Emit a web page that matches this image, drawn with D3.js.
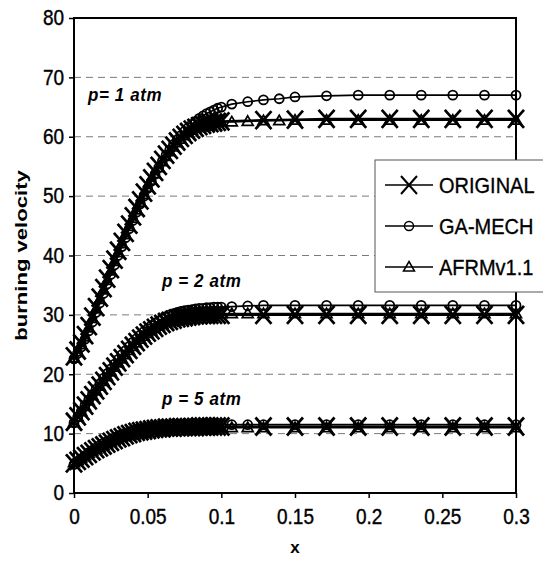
<!DOCTYPE html>
<html>
<head>
<meta charset="utf-8">
<script src="https://cdn.jsdelivr.net/npm/d3@7"></script>
<style>
  body { margin: 0; background: #fff; }
  svg { display: block; }
  text { font-family: "Liberation Sans", Arial, sans-serif; fill: #000; }
</style>
</head>
<body>
<svg id="chart" width="543" height="563"></svg>
<script>
// mole-fraction grid shared by all runs
const xValues = [
  0, 0.0025, 0.005, 0.0075, 0.01, 0.0125, 0.015, 0.0175, 0.02, 0.0225,
  0.025, 0.0275, 0.03, 0.0325, 0.035, 0.0375, 0.04, 0.0425, 0.045, 0.0475,
  0.05, 0.0525, 0.055, 0.0575, 0.06, 0.0625, 0.065, 0.0675, 0.07, 0.0725,
  0.075, 0.0775, 0.08, 0.0825, 0.085, 0.0875, 0.09, 0.0925, 0.095, 0.0975,
  0.1, 0.1071, 0.1179, 0.1286, 0.1393, 0.15, 0.1714, 0.1929, 0.2143, 0.2357,
  0.2571, 0.2786, 0.3
];

// burning velocity, p = 1 atm (null = not computed at that x)
const original1 = [
  23.0, 24.0, 25.2, 26.6, 28.1, 29.7, 31.3, 32.9, 34.5, 36.1,
  37.7, 39.3, 40.8, 42.3, 43.8, 45.2, 46.6, 48.0, 49.3, 50.6,
  51.8, 53.0, 54.1, 55.1, 56.1, 57.0, 57.8, 58.5, 59.2, 59.8,
  60.3, 60.8, 61.2, 61.5, 61.8, 62.0, 62.2, 62.3, 62.4, 62.5,
  62.6, null, null, 62.8, null, 62.9, 63.0, 63.0, 63.0, 63.0,
  63.0, 63.0, 63.0
];
const gamech1 = [
  22.6, 23.5, 24.6, 25.9, 27.3, 28.8, 30.4, 32.0, 33.6, 35.2,
  36.8, 38.4, 40.0, 41.5, 43.0, 44.5, 45.9, 47.3, 48.7, 50.0,
  51.3, 52.5, 53.7, 54.8, 55.9, 56.9, 57.8, 58.7, 59.5, 60.2,
  60.9, 61.5, 62.1, 62.6, 63.1, 63.5, 63.9, 64.2, 64.5, 64.8,
  65.0, 65.5, 65.9, 66.2, 66.4, 66.7, 66.9, 67.0, 67.0, 67.0,
  67.0, 67.0, 67.0
];
const afrm1 = [
  22.8, 23.8, 25.0, 26.3, 27.8, 29.4, 31.0, 32.6, 34.2, 35.8,
  37.4, 39.0, 40.5, 42.0, 43.5, 44.9, 46.3, 47.7, 49.0, 50.3,
  51.5, 52.7, 53.8, 54.8, 55.8, 56.7, 57.5, 58.3, 59.0, 59.6,
  60.2, 60.7, 61.1, 61.4, 61.7, 61.9, 62.1, 62.2, 62.3, 62.4,
  62.5, 62.5, 62.6, 62.7, 62.7, 62.8, 62.8, 62.8, 62.8, 62.8,
  62.8, 62.8, 62.8
];

// burning velocity, p = 2 atm
const original2 = [
  12.0, 12.9, 13.8, 14.7, 15.6, 16.5, 17.3, 18.1, 18.9, 19.7,
  20.5, 21.3, 22.0, 22.7, 23.4, 24.1, 24.8, 25.4, 26.0, 26.5,
  27.0, 27.4, 27.8, 28.2, 28.5, 28.8, 29.0, 29.2, 29.4, 29.5,
  29.6, 29.7, 29.8, 29.9, 29.9, 30.0, 30.0, 30.0, 30.0, 30.0,
  30.0, null, null, 30.0, null, 30.0, 30.0, 30.0, 30.0, 30.0,
  30.0, 30.0, 30.0
];
const gamech2 = [
  11.8, 12.8, 13.8, 14.8, 15.7, 16.6, 17.5, 18.4, 19.3, 20.1,
  20.9, 21.7, 22.5, 23.3, 24.0, 24.7, 25.4, 26.0, 26.6, 27.2,
  27.7, 28.2, 28.6, 29.0, 29.4, 29.7, 30.0, 30.2, 30.4, 30.6,
  30.7, 30.8, 30.9, 31.0, 31.1, 31.1, 31.2, 31.2, 31.3, 31.3,
  31.3, 31.4, 31.5, 31.6, null, 31.6, 31.6, 31.6, 31.6, 31.6,
  31.6, 31.6, 31.6
];
const afrm2 = [
  11.9, 12.8, 13.7, 14.6, 15.5, 16.4, 17.2, 18.0, 18.8, 19.6,
  20.4, 21.2, 21.9, 22.6, 23.3, 24.0, 24.7, 25.3, 25.9, 26.4,
  26.9, 27.3, 27.7, 28.1, 28.4, 28.7, 29.0, 29.2, 29.4, 29.6,
  29.7, 29.8, 29.9, 30.0, 30.0, 30.1, 30.1, 30.1, 30.2, 30.2,
  30.2, 30.2, 30.2, 30.2, null, 30.2, 30.2, 30.2, 30.2, 30.2,
  30.2, 30.2, 30.2
];

// burning velocity, p = 5 atm
const original5 = [
  5.0, 5.4, 5.8, 6.2, 6.6, 7.0, 7.4, 7.7, 8.0, 8.3,
  8.6, 8.9, 9.2, 9.4, 9.7, 9.9, 10.1, 10.3, 10.4, 10.5,
  10.6, 10.7, 10.8, 10.9, 10.9, 11.0, 11.0, 11.0, 11.1, 11.1,
  11.1, 11.1, 11.1, 11.1, 11.2, 11.2, 11.2, 11.2, 11.2, 11.2,
  11.2, null, null, 11.2, null, 11.2, 11.2, 11.2, 11.2, 11.2,
  11.2, 11.2, 11.2
];
const gamech5 = [
  4.8, 5.3, 5.8, 6.3, 6.8, 7.2, 7.6, 8.0, 8.4, 8.7,
  9.0, 9.3, 9.6, 9.9, 10.1, 10.3, 10.5, 10.7, 10.8, 10.9,
  11.0, 11.1, 11.2, 11.2, 11.3, 11.3, 11.4, 11.4, 11.4, 11.5,
  11.5, 11.5, 11.5, 11.5, 11.5, 11.5, 11.5, 11.5, 11.5, 11.5,
  11.5, 11.5, 11.5, 11.5, null, 11.5, 11.5, 11.5, 11.5, 11.5,
  11.5, 11.5, 11.5
];
const afrm5 = [
  5.1, 5.5, 5.9, 6.3, 6.7, 7.1, 7.4, 7.7, 8.0, 8.3,
  8.6, 8.9, 9.1, 9.4, 9.6, 9.8, 10.0, 10.2, 10.3, 10.4,
  10.5, 10.6, 10.7, 10.8, 10.8, 10.9, 10.9, 10.9, 11.0, 11.0,
  11.0, 11.0, 11.0, 11.0, 11.0, 11.0, 11.0, 11.0, 11.0, 11.0,
  11.0, 11.0, 11.0, 11.0, null, 11.0, 11.0, 11.0, 11.0, 11.0,
  11.0, 11.0, 11.0
];

const seriesNames = ["ORIGINAL", "GA-MECH", "AFRMv1.1"];
const pressureLabels = ["p= 1 atm", "p = 2 atm", "p = 5 atm"];
const yTicks = [0, 10, 20, 30, 40, 50, 60, 70, 80];
const xTicks = [0, 0.05, 0.1, 0.15, 0.2, 0.25, 0.3];
const xTickLabels = ["0", "0.05", "0.1", "0.15", "0.2", "0.25", "0.3"];
const xTitle = "x";
const yTitle = "burning velocity";

const svg = d3.select("#chart");
const x = d3.scaleLinear().domain([0, 0.3]).range([74, 516]);
const y = d3.scaleLinear().domain([0, 80]).range([493, 18]);

// re-anchor a text element at its own position and stretch it about that point
function stretch(sel, sx, sy) {
  sel.each(function () {
    const t = d3.select(this);
    const tx = +t.attr("x") || 0, ty = +t.attr("y") || 0;
    t.attr("x", 0).attr("y", 0)
      .attr("transform", `translate(${tx},${ty}) scale(${sx},${sy})`);
  });
}

// dashed horizontal gridlines
svg.append("g").selectAll("line")
  .data(yTicks.slice(1, -1))
  .join("line")
  .attr("x1", x(0)).attr("x2", x(0.3))
  .attr("y1", d => y(d)).attr("y2", d => y(d))
  .attr("stroke", "#7a7a7a").attr("stroke-width", 1)
  .attr("stroke-dasharray", "7,5");

// axes
const yAxis = svg.append("g")
  .attr("transform", `translate(${x(0)},0)`)
  .call(d3.axisLeft(y).tickValues(yTicks).tickSize(5).tickSizeOuter(0).tickPadding(5)
    .tickFormat(d3.format("d")));
const xAxis = svg.append("g")
  .attr("transform", `translate(0,${y(0)})`)
  .call(d3.axisBottom(x).tickValues(xTicks).tickSize(5).tickSizeOuter(0).tickPadding(11)
    .tickFormat((d, i) => xTickLabels[i]));
[yAxis, xAxis].forEach(a => {
  a.select(".domain").remove();
  a.selectAll(".tick line").attr("stroke", "#000").attr("stroke-width", 1.5);
  a.selectAll(".tick text")
    .style("font-family", '"Liberation Sans", Arial, sans-serif')
    .style("font-size", "19px").attr("fill", "#000")
    .attr("stroke", "#000").attr("stroke-width", 0.35)
    .call(stretch, 1, 1.12);
});

// plot frame
svg.append("rect")
  .attr("x", x(0)).attr("y", y(80))
  .attr("width", x(0.3) - x(0)).attr("height", y(0) - y(80))
  .attr("fill", "none").attr("stroke", "#000").attr("stroke-width", 2);

// axis titles
svg.append("text")
  .attr("x", (x(0) + x(0.3)) / 2).attr("y", 553)
  .attr("text-anchor", "middle")
  .style("font-size", "17px").style("font-weight", "bold")
  .text(xTitle);
svg.append("text")
  .attr("transform", `translate(27,${(y(0) + y(80)) / 2}) rotate(-90) scale(1.3,1)`)
  .attr("text-anchor", "middle")
  .style("font-size", "17px").style("font-weight", "bold")
  .text(yTitle);

// marker shapes
const markerPath = {
  cross: "M-8,-9L8,9M-8,9L8,-9",
  circle: "M-4.5,0A4.5,4.5 0 1,0 4.5,0A4.5,4.5 0 1,0 -4.5,0Z",
  triangle: "M0,-5.5L5.5,4L-5.5,4Z"
};
const markerStroke = { cross: 2.7, circle: 1.8, triangle: 1.7 };

const series = [
  { name: seriesNames[0], marker: "cross", width: 2.2, runs: [original1, original2, original5] },
  { name: seriesNames[1], marker: "circle", width: 1.7, runs: [gamech1, gamech2, gamech5] },
  { name: seriesNames[2], marker: "triangle", width: 1.7, runs: [afrm1, afrm2, afrm5] }
];

const line = d3.line().x(d => x(d[0])).y(d => y(d[1]));
const plot = svg.append("g");

series.forEach(s => {
  s.runs.forEach(run => {
    const pts = run.map((v, i) => [xValues[i], v]).filter(d => d[1] != null);
    const g = plot.append("g");
    g.append("path").datum(pts)
      .attr("d", line).attr("fill", "none")
      .attr("stroke", "#000").attr("stroke-width", s.width);
    g.selectAll("path.m").data(pts).join("path")
      .attr("class", "m")
      .attr("transform", d => `translate(${x(d[0])},${y(d[1])})`)
      .attr("d", markerPath[s.marker])
      .attr("fill", "none").attr("stroke", "#000")
      .attr("stroke-width", markerStroke[s.marker]);
  });
});

// pressure annotations, placed in data coordinates
const labelPos = [[0.0095, 66.0], [0.0597, 34.7], [0.0597, 14.8]];
svg.append("g").selectAll("text")
  .data(pressureLabels)
  .join("text")
  .attr("x", (d, i) => x(labelPos[i][0]))
  .attr("y", (d, i) => y(labelPos[i][1]))
  .style("font-size", "17px").style("font-weight", "bold").style("font-style", "italic")
  .style("letter-spacing", "0.6px")
  .text(d => d)
  .call(stretch, 1, 1.12);

// legend
const legend = svg.append("g").attr("transform", "translate(375,160)");
legend.append("rect")
  .attr("x", 0).attr("y", 0).attr("width", 190).attr("height", 132)
  .attr("fill", "#fff").attr("stroke", "#555").attr("stroke-width", 1);
series.forEach((s, i) => {
  const cy = 25 + i * 41;
  const row = legend.append("g").attr("transform", `translate(0,${cy})`);
  row.append("line").attr("x1", 10).attr("x2", 58).attr("y1", 0).attr("y2", 0)
    .attr("stroke", "#000").attr("stroke-width", 1.5);
  row.append("path")
    .attr("transform", "translate(34,0)")
    .attr("d", markerPath[s.marker])
    .attr("fill", "none").attr("stroke", "#000")
    .attr("stroke-width", s.marker === "cross" ? 2 : 1.5);
  row.append("text").attr("x", 64).attr("y", 0).attr("dy", "0.36em")
    .style("font-size", "20px")
    .attr("stroke", "#000").attr("stroke-width", 0.3)
    .text(s.name)
    .call(stretch, 1, 1.06);
});
</script>
</body>
</html>
